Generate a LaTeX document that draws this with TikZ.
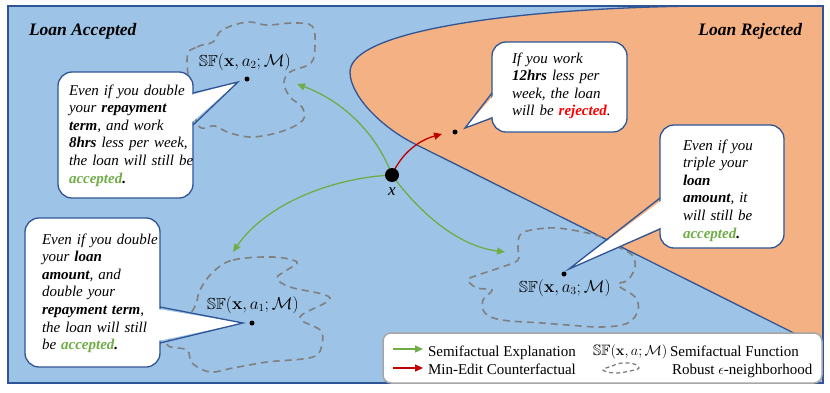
\documentclass[tikz,border=0pt]{standalone}
\usepackage[no-math]{fontspec}
\setmainfont{Liberation Serif}
\usepackage{amsmath,amssymb}
\usetikzlibrary{arrows.meta}
\definecolor{bluebg}{HTML}{9DC3E6}
\definecolor{orng}{HTML}{F4B183}
\definecolor{dkblue}{HTML}{2F5597}
\definecolor{grn}{HTML}{70AD47}
\definecolor{rd}{HTML}{C00000}
\definecolor{brightred}{HTML}{FF0000}
\definecolor{blobgray}{HTML}{808080}
\definecolor{leggray}{HTML}{A6A6A6}
\newcommand\SFlab[1]{$\mathbb{SF}(\mathbf{x},#1;\mathcal{M})$}
\newcommand\accw{\textcolor{grn}{\textbf{accepted}}\textbf{.}}
\begin{document}
\begin{tikzpicture}[x=1pt,y=-1pt,
  every node/.style={inner sep=0pt,outer sep=0pt},
  txt/.style={font=\fontsize{15}{17.6}\selectfont\itshape,align=left,anchor=base west,text width=170pt},
  cbox/.style={draw=dkblue,line width=1.3pt,fill=white,rounded corners=14pt,anchor=north west},
  ptr/.style={draw=dkblue,line width=1.3pt,line join=miter},
  blob/.style={draw=blobgray,line width=1.6pt,dash pattern=on 7pt off 5pt},
  semi/.style={draw=grn,line width=1.3pt,-{Triangle[length=8pt,width=7pt]}},
  cf/.style={draw=rd,line width=1.3pt,-{Triangle[length=8pt,width=7pt]}},
  dot/.style={circle,fill=black,minimum size=5pt},
  sflab/.style={font=\fontsize{16}{18}\selectfont},
  leg/.style={font=\fontsize{15}{17}\selectfont,anchor=base west},
  title/.style={font=\fontsize{17.5}{20}\selectfont\bfseries\itshape,anchor=base west}]
\useasboundingbox (0,0) rectangle (830,392);
% background regions
\fill[bluebg] (8,6) rectangle (823,383);
\begin{scope}
  \clip (8,6) rectangle (823,383);
  \fill[orng] (700,6) .. controls (520,8) and (350,30) .. (350,72) .. controls (350,95) and (380,126) .. (413,143) -- (900,386) -- (900,0) -- (700,0) -- cycle;
  \draw[dkblue,line width=1.3pt] (700,6) .. controls (520,8) and (350,30) .. (350,72) .. controls (350,95) and (380,126) .. (413,143) -- (900,386);
\end{scope}
\draw[dkblue,line width=1.5pt] (8,6) rectangle (823,383);
% titles
\node[title] (tacc) at (29,35) {Loan Accepted};
\node[title,anchor=base east] (trej) at (802,35) {Loan Rejected};
% neighbourhoods
\draw[blob] plot[smooth cycle,tension=0.6] coordinates {(187,60) (197,47) (213,42) (222,30) (247,22) (267,25) (293,23) (312,26) (315,45) (311,63) (290,72) (284,83) (290,97) (302,107) (303,120) (283,131) (253,137) (230,133) (215,126) (197,123)};
\draw[blob] plot[smooth cycle,tension=0.6] coordinates {(213,272) (233,260) (273,257) (297,262) (287,270) (277,278) (290,287) (330,298) (300,317) (320,330) (322,343) (313,357) (267,362) (233,368) (210,372) (192,363) (187,350) (167,343) (193,310) (200,290)};
\draw[blob] plot[smooth cycle,tension=0.6] coordinates {(522,233) (548,228) (572,230) (602,237) (618,247) (632,255) (635,267) (628,280) (618,285) (635,297) (638,310) (628,323) (602,327) (568,325) (542,323) (502,320) (485,313) (483,300) (492,290) (477,288) (468,280) (478,275) (502,267) (518,260) (518,247)};
% labels of semifactuals
\node[sflab] (l2) at (245,62) {\SFlab{a_2}};
\node[sflab] (l1) at (253,305) {\SFlab{a_1}};
\node[sflab] (l3) at (565,288) {\SFlab{a_3}};
% point x and arrows
\coordinate (X) at (392,175);
\coordinate (e2) at (297,84);
\coordinate (e1) at (233,252);
\coordinate (e3) at (505,252);
\coordinate (er) at (442,134);
\draw[semi] (X) .. controls (375,130) and (340,100) .. (e2);
\draw[semi] (X) .. controls (330,178) and (265,205) .. (e1);
\draw[semi] (X) .. controls (410,200) and (450,245) .. (e3);
\draw[cf] (X) .. controls (402,152) and (420,140) .. (er);
\node[circle,fill=black,minimum size=14pt] (xdot) at (X) {};
\node[font=\fontsize{17}{18}\selectfont\itshape,anchor=base] (xlab) at (392,195) {x};
% dots
\node[dot] (d2) at (247,79) {};
\node[dot] (d1) at (252,323) {};
\node[dot] (d3) at (564,274) {};
\node[dot] (dr) at (455,132) {};
% callout 1
\node[cbox,minimum width=135pt,minimum height=126pt] (b1) at (58,72) {};
\coordinate (t1) at (238,82);
\fill[white] (191,95) -- (t1) -- (191,123) -- cycle;
\draw[ptr] (193,93) -- (t1) -- (193,125);
\node[txt] (x1) at (69,95) {Even if you double\\your \textbf{repayment}\\\textbf{term}, and work\\\textbf{8hrs} less per week,\\the loan will still be\\\accw};
% callout 2
\node[cbox,minimum width=135pt,minimum height=90pt] (b2) at (492,42) {};
\coordinate (t2) at (465,128);
\fill[white] (494,95) -- (t2) -- (494,116) -- cycle;
\draw[ptr] (492,93) -- (t2) -- (492,118);
\node[txt] (x2) at (512,63) {If you work\\\textbf{12hrs} less per\\week, the loan\\will be \textcolor{brightred}{\textbf{rejected}}.};
% callout 3
\node[cbox,minimum width=124pt,minimum height=123pt] (b3) at (660,125) {};
\coordinate (t3) at (569,269);
\fill[white] (662,200) -- (t3) -- (662,227) -- cycle;
\draw[ptr] (660,198) -- (t3) -- (660,229);
\node[txt] (x3) at (683,150) {Even if you\\triple your\\\textbf{loan}\\\textbf{amount}, it\\will still be\\\accw};
% callout 4
\node[cbox,minimum width=135pt,minimum height=149pt] (b4) at (25,218) {};
\coordinate (t4) at (243,323);
\fill[white] (158,309) -- (t4) -- (158,341) -- cycle;
\draw[ptr] (160,307) -- (t4) -- (160,343);
\node[txt] (x4) at (42,244) {Even if you double\\your \textbf{loan}\\\textbf{amount}, and\\double your\\\textbf{repayment term},\\the loan will still\\be \accw};
% legend
\node[draw=leggray,line width=1.5pt,fill=white,rounded corners=8pt,minimum width=439pt,minimum height=50pt,anchor=north west] (legbox) at (383,333) {};
\coordinate (ga) at (393,349); \coordinate (gb) at (423,349);
\coordinate (ra) at (393,368); \coordinate (rb) at (423,368);
\draw[semi] (ga) -- (gb);
\draw[cf] (ra) -- (rb);
\node[leg] (lg1) at (428,356) {Semifactual Explanation};
\node[leg] (lg2) at (428,374) {Min-Edit Counterfactual};
\node[leg,font=\fontsize{15}{17}\selectfont] (lg3) at (593,355) {$\mathbb{SF}(\mathbf{x},a;\mathcal{M})$};
\node[leg] (lg4) at (670,356) {Semifactual Function};
\draw[draw=blobgray,line width=1.3pt,dash pattern=on 4pt off 3pt] plot[smooth cycle,tension=0.7] coordinates {(603,370) (612,366) (622,363) (634,364) (639,368) (630,371) (615,373)};
\node[leg] (lg5) at (672,374) {Robust $\epsilon$-neighborhood};
\end{tikzpicture}
\end{document}
